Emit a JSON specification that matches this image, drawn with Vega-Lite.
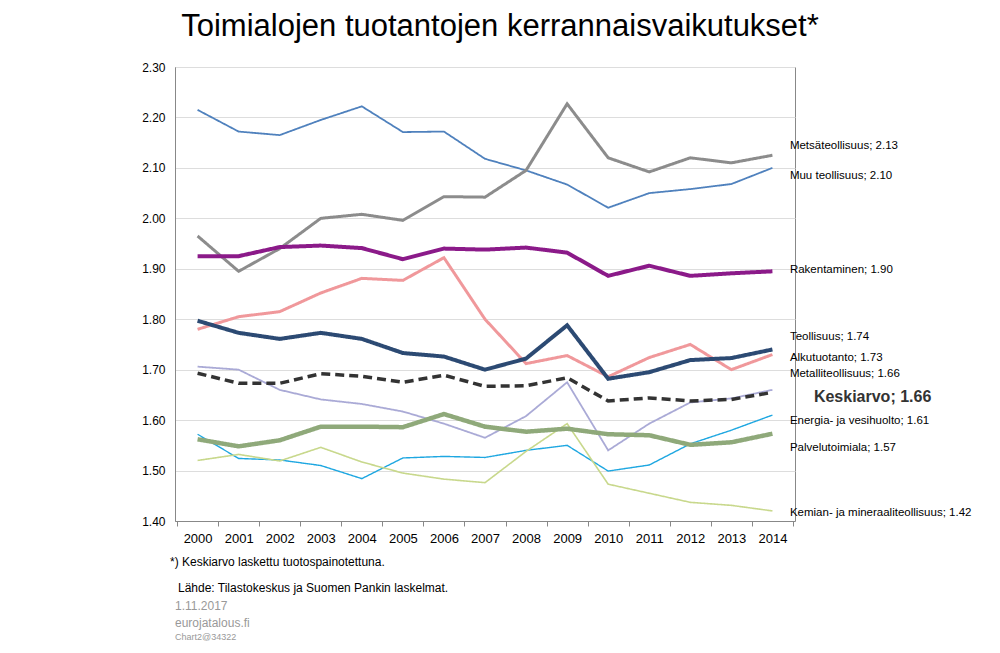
{
  "$schema": "https://vega.github.io/schema/vega-lite/v6.json",
  "width": 620,
  "height": 454,
  "autosize": "none",
  "padding": {"left": 175, "top": 67, "right": 205, "bottom": 132},
  "background": "white",
  "title": {"text": "Toimialojen tuotantojen kerrannaisvaikutukset*", "fontSize": 31, "font": "Liberation Sans", "fontWeight": "normal", "color": "black", "offset": 18, "anchor": "middle", "dx": 15},
  "config": {"view": {"stroke": "#888"}, "font": "Liberation Sans"},
  "datasets": {
    "series": [
      {"s": "Muu teollisuus", "v": [2.215,2.172,2.165,2.195,2.222,2.171,2.172,2.118,2.095,2.067,2.021,2.050,2.058,2.068,2.10]},
      {"s": "Metsäteollisuus", "v": [1.965,1.895,1.94,2.00,2.008,1.996,2.043,2.042,2.095,2.227,2.12,2.092,2.12,2.11,2.125]},
      {"s": "Rakentaminen", "v": [1.925,1.925,1.943,1.946,1.941,1.919,1.940,1.938,1.942,1.932,1.886,1.906,1.886,1.891,1.895]},
      {"s": "Alkutuotanto", "v": [1.78,1.805,1.815,1.852,1.881,1.877,1.922,1.80,1.712,1.728,1.686,1.724,1.75,1.70,1.73]},
      {"s": "Metalliteollisuus", "v": [1.706,1.70,1.66,1.641,1.632,1.617,1.593,1.565,1.608,1.675,1.54,1.593,1.635,1.643,1.66]},
      {"s": "Energia", "v": [1.572,1.524,1.521,1.51,1.484,1.525,1.528,1.526,1.54,1.55,1.499,1.511,1.553,1.58,1.61]},
      {"s": "Kemian", "v": [1.52,1.532,1.519,1.546,1.517,1.495,1.483,1.476,1.538,1.593,1.473,1.455,1.437,1.431,1.42]},
      {"s": "Palvelutoimiala", "v": [1.562,1.548,1.56,1.587,1.587,1.586,1.612,1.587,1.577,1.583,1.572,1.570,1.551,1.556,1.573]},
      {"s": "Keskiarvo", "v": [1.693,1.673,1.673,1.692,1.687,1.675,1.689,1.667,1.668,1.684,1.638,1.644,1.638,1.641,1.655]},
      {"s": "Teollisuus", "v": [1.797,1.773,1.761,1.773,1.761,1.733,1.726,1.70,1.722,1.788,1.682,1.695,1.719,1.723,1.74]}
    ],
    "labels": [
      {"t": "Metsäteollisuus;  2.13", "y": 2.143},
      {"t": "Muu teollisuus;  2.10", "y": 2.084},
      {"t": "Rakentaminen;  1.90", "y": 1.897},
      {"t": "Teollisuus;  1.74", "y": 1.764},
      {"t": "Alkutuotanto;  1.73", "y": 1.724},
      {"t": "Metalliteollisuus;  1.66", "y": 1.691},
      {"t": "Energia- ja vesihuolto; 1.61", "y": 1.598},
      {"t": "Palvelutoimiala;  1.57", "y": 1.544},
      {"t": "Kemian- ja mineraaliteollisuus; 1.42", "y": 1.415}
    ],
    "notes": [
      {"t": "*) Keskiarvo laskettu tuotospainotettuna.", "y": 562, "x": 170, "s": 12, "c": "black"},
      {"t": "Lähde: Tilastokeskus ja Suomen Pankin laskelmat.", "y": 588, "x": 178, "s": 12, "c": "black"},
      {"t": "1.11.2017", "y": 606, "x": 175, "s": 12, "c": "#999"},
      {"t": "eurojatalous.fi", "y": 623, "x": 175, "s": 12, "c": "#999"},
      {"t": "Chart2@34322", "y": 637, "x": 175, "s": 9, "c": "#999"}
    ]
  },
  "layer": [
    {
      "data": {"name": "series"},
      "transform": [
        {"calculate": "[2000,2001,2002,2003,2004,2005,2006,2007,2008,2009,2010,2011,2012,2013,2014]", "as": "years"},
        {"calculate": "{'Muu teollisuus': 1.8, 'Metsäteollisuus': 3, 'Rakentaminen': 4, 'Alkutuotanto': 3, 'Teollisuus': 4, 'Metalliteollisuus': 1.8, 'Energia': 1.4, 'Kemian': 1.6, 'Palvelutoimiala': 4.5, 'Keskiarvo': 3.5}[datum.s]", "as": "w"},
        {"calculate": "datum.s == 'Keskiarvo' ? [9, 5] : [1, 0]", "as": "dash"},
        {"flatten": ["v"], "as": ["value"]},
        {"window": [{"op": "row_number", "as": "i"}], "groupby": ["s"]},
        {"calculate": "datum.years[datum.i - 1]", "as": "year"}
      ],
      "mark": {"type": "line"},
      "encoding": {
        "x": {"field": "year", "type": "ordinal", "scale": {"type": "band", "paddingInner": 0, "paddingOuter": 0.05}, "title": null,
          "axis": {"labelAngle": 0, "labelFontSize": 13, "labelColor": "black", "tickBand": "extent", "tickColor": "#888", "domainColor": "#888", "labelPadding": 6}},
        "y": {"field": "value", "type": "quantitative", "scale": {"domain": [1.4, 2.3], "nice": false}, "title": null,
          "axis": {"values": [1.4,1.5,1.6,1.7,1.8,1.9,2.0,2.1,2.2,2.3], "format": ".2f", "labelFontSize": 12, "labelColor": "black", "gridColor": "#ddd", "ticks": false, "domainColor": "#888", "labelPadding": 10}},
        "detail": {"field": "s"},
        "order": {"field": "i"},
        "color": {"field": "s", "type": "nominal", "legend": null,
          "scale": {"domain": ["Muu teollisuus","Metsäteollisuus","Rakentaminen","Alkutuotanto","Teollisuus","Metalliteollisuus","Energia","Kemian","Palvelutoimiala","Keskiarvo"],
            "range": ["#4f81bd","#8c8c8c","#8b1a89","#f0989b","#2c4a73","#aaaad6","#1ea7e1","#c8d88c","#8fa97a","#333333"]}},
        "strokeWidth": {"field": "w", "type": "quantitative", "scale": null},
        "strokeDash": {"field": "dash", "type": "nominal", "scale": null}
      }
    },
    {
      "data": {"name": "labels"},
      "mark": {"type": "text", "align": "left", "fontSize": 11.5, "color": "black"},
      "encoding": {
        "x": {"datum": 2014, "type": "ordinal"},
        "y": {"field": "y", "type": "quantitative"},
        "xOffset": {"value": 38},
        "text": {"field": "t"}
      }
    },
    {
      "data": {"values": [{"y": 1.645}]},
      "mark": {"type": "text", "align": "left", "fontSize": 16, "color": "#333", "fontWeight": "bold"},
      "encoding": {
        "x": {"datum": 2014, "type": "ordinal"},
        "y": {"field": "y", "type": "quantitative"},
        "xOffset": {"value": 62},
        "text": {"value": "Keskiarvo;  1.66"}
      }
    },
    {
      "data": {"name": "notes"},
      "mark": {"type": "text", "align": "left", "baseline": "middle"},
      "encoding": {
        "x": {"field": "x", "type": "quantitative", "scale": null},
        "y": {"field": "y", "type": "quantitative", "scale": null},
        "xOffset": {"value": -175},
        "yOffset": {"value": -67},
        "text": {"field": "t"},
        "size": {"field": "s", "type": "quantitative", "scale": null},
        "color": {"field": "c", "type": "nominal", "scale": null}
      }
    }
  ]
}
